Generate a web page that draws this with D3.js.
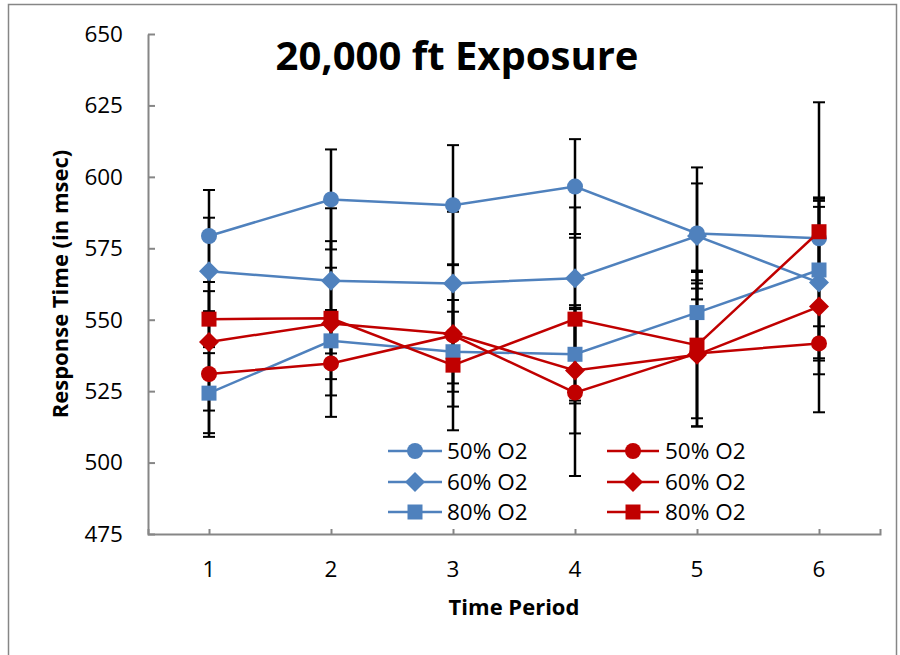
<!DOCTYPE html>
<html>
<head>
<meta charset="utf-8">
<script src="https://cdn.jsdelivr.net/npm/d3@7"></script>
<style>
  body { margin: 0; background: #fff; }
  text { font-family: "Open Sans", "Liberation Sans", sans-serif; }
</style>
</head>
<body>
<div id="chart"></div>
<script>
// data
var periods = ["1", "2", "3", "4", "5", "6"]
var yTicks = [475, 500, 525, 550, 575, 600, 625, 650]
var seriesNames = ["50% O2", "60% O2", "80% O2", "50% O2", "60% O2", "80% O2"]

var blue50 = [579.3, 592.1, 590.1, 596.6, 580.2, 578.5]
var blue60 = [567.0, 563.6, 562.7, 564.5, 579.3, 563.0]
var blue80 = [524.3, 542.6, 538.8, 537.9, 552.5, 567.4]
var red50  = [531.0, 534.7, 544.5, 524.5, 538.2, 541.7]
var red60  = [542.2, 548.7, 545.0, 532.2, 537.7, 554.6]
var red80  = [550.2, 550.5, 534.1, 550.2, 541.1, 580.8]

// +/- error (same both ways)
var blue50Err = [16.1, 17.5, 21.0, 16.6, 23.1, 47.6]
var blue60Err = [18.7, 25.4, 25.1, 24.8, 18.4, 26.5]
var blue80Err = [14.0, 9.3, 14.0, 17.2, 14.7, 25.4]
var red50Err  = [22.0, 18.7, 24.9, 29.2, 25.6, 6.0]
var red60Err  = [24.0, 19.5, 17.3, 22.0, 25.0, 37.0]
var red80Err  = [9.8, 27.0, 22.8, 28.5, 25.6, 11.5]

var BLUE = "#4F81BD", RED = "#C00000", AXIS = "#868686"

var series = [
  {name: seriesNames[0], values: blue50, err: blue50Err, color: BLUE, shape: "circle"},
  {name: seriesNames[1], values: blue60, err: blue60Err, color: BLUE, shape: "diamond"},
  {name: seriesNames[2], values: blue80, err: blue80Err, color: BLUE, shape: "square"},
  {name: seriesNames[3], values: red50, err: red50Err, color: RED, shape: "circle"},
  {name: seriesNames[4], values: red60, err: red60Err, color: RED, shape: "diamond"},
  {name: seriesNames[5], values: red80, err: red80Err, color: RED, shape: "square"}
]

var W = 900, H = 655
var plotL = 148, plotR = 880, plotT = 34, plotB = 534

var svg = d3.select("#chart").append("svg")
  .attr("width", W)
  .attr("height", H)

// chart area border
svg.append("rect")
  .attr("x", 8.5).attr("y", 4.5)
  .attr("width", 888).attr("height", 700)
  .attr("fill", "#fff")
  .attr("stroke", AXIS)
  .attr("stroke-width", 1.5)

var x = d3.scalePoint()
  .domain(periods)
  .range([plotL, plotR])
  .padding(0.5)

var y = d3.scaleLinear()
  .domain([475, 650])
  .range([plotB, plotT])

// y axis, ticks pointing inward
var yAxis = svg.append("g")
  .attr("transform", "translate(" + plotL + ",0)")
  .call(d3.axisRight(y).tickValues(yTicks).tickSize(7).tickSizeOuter(0).tickFormat(""))
yAxis.select(".domain").attr("stroke", AXIS).attr("stroke-width", 2)
yAxis.selectAll(".tick line").attr("stroke", AXIS).attr("stroke-width", 2)

svg.append("g").selectAll("text")
  .data(yTicks)
  .join("text")
    .attr("x", 123)
    .attr("y", d => y(d))
    .attr("dy", "0.35em")
    .attr("text-anchor", "end")
    .attr("font-size", 22.5)
    .text(d => d)

// x axis, ticks pointing up
var xAxis = svg.append("g")
  .attr("transform", "translate(0," + plotB + ")")
  .call(d3.axisTop(x).tickSize(5).tickSizeOuter(5).tickFormat(""))
xAxis.select(".domain").attr("stroke", AXIS).attr("stroke-width", 2)
xAxis.selectAll(".tick line").attr("stroke", AXIS).attr("stroke-width", 2)

svg.append("g").selectAll("text")
  .data(periods)
  .join("text")
    .attr("x", d => x(d))
    .attr("y", 577)
    .attr("text-anchor", "middle")
    .attr("font-size", 22.5)
    .text(d => d)

function marker(shape) {
  if (shape == "circle") return d3.symbol(d3.symbolCircle, Math.PI * 64)()
  if (shape == "square") return "M-7.5,-7.5H7.5V7.5H-7.5Z"
  return "M0,-10L10,0L0,10L-10,0Z"
}

// error bars
var eb = svg.append("g").attr("stroke", "#000")
series.forEach(function(s) {
  s.values.forEach(function(v, i) {
    var cx = x(periods[i])
    eb.append("line")
      .attr("x1", cx).attr("x2", cx)
      .attr("y1", y(v + s.err[i])).attr("y2", y(v - s.err[i]))
      .attr("stroke-width", 2.5)
    ;[v + s.err[i], v - s.err[i]].forEach(function(e) {
      eb.append("line")
        .attr("x1", cx - 6).attr("x2", cx + 6)
        .attr("y1", y(e)).attr("y2", y(e))
        .attr("stroke-width", 2)
    })
  })
})

var line = d3.line()
  .x((d, i) => x(periods[i]))
  .y(d => y(d))

series.forEach(function(s) {
  svg.append("path")
    .datum(s.values)
    .attr("fill", "none")
    .attr("stroke", s.color)
    .attr("stroke-width", 2.5)
    .attr("d", line)
  svg.append("g").selectAll("path")
    .data(s.values)
    .join("path")
      .attr("transform", (d, i) => "translate(" + x(periods[i]) + "," + y(d) + ")")
      .attr("d", marker(s.shape))
      .attr("fill", s.color)
})

// legend
var legRows = [451, 482, 512]
var legCols = [{x0: 388, x1: 442, tx: 447}, {x0: 607, x1: 659, tx: 665}]
series.forEach(function(s, i) {
  var c = legCols[Math.floor(i / 3)], ry = legRows[i % 3]
  var g = svg.append("g")
  g.append("line")
    .attr("x1", c.x0).attr("x2", c.x1)
    .attr("y1", ry).attr("y2", ry)
    .attr("stroke", s.color).attr("stroke-width", 2.5)
  g.append("path")
    .attr("transform", "translate(" + ((c.x0 + c.x1) / 2) + "," + ry + ")")
    .attr("d", marker(s.shape))
    .attr("fill", s.color)
  g.append("text")
    .attr("x", c.tx).attr("y", ry)
    .attr("dy", "0.35em")
    .attr("font-size", 22.5)
    .text(s.name)
})

// titles
svg.append("text")
  .attr("x", 457).attr("y", 70)
  .attr("text-anchor", "middle")
  .attr("font-size", 40)
  .attr("font-weight", "bold")
  .text("20,000 ft Exposure")

svg.append("text")
  .attr("transform", "translate(68,284) rotate(-90)")
  .attr("text-anchor", "middle")
  .attr("font-size", 22)
  .attr("font-weight", "bold")
  .text("Response Time (in msec)")

svg.append("text")
  .attr("x", 514).attr("y", 615)
  .attr("text-anchor", "middle")
  .attr("font-size", 22)
  .attr("font-weight", "bold")
  .text("Time Period")
</script>
</body>
</html>
